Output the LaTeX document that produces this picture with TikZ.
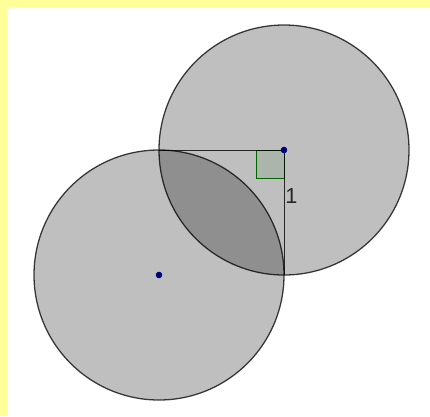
\documentclass[tikz,border=0pt]{standalone}
\usepackage{fontspec}
\usepackage{xcolor}
\usepackage{tikz}
\newfontfamily\labelfont{Liberation Sans}
\definecolor{cbor}{HTML}{FFFF99}
\definecolor{cpun}{HTML}{00007F}
\definecolor{cang}{HTML}{006400}

\begin{document}
\begin{tikzpicture}[x=0.03cm,y=-0.03cm]
    \useasboundingbox (0,0) rectangle (430,416);
    \fill[cbor] (0,0) rectangle (430,416);
    \fill[white] (7,7) rectangle (430,416);
    \coordinate (A) at (284,150);
    \coordinate (B) at (159,275);
    \coordinate (P) at (159,150);
    \coordinate (Q) at (284,275);
    \draw[line width=1.1pt,fill=black,fill opacity=0.25,draw opacity=0.75] (A) circle (125);
    \draw[line width=1.1pt,fill=black,fill opacity=0.25,draw opacity=0.75] (B) circle (125);
    \draw[cang,line width=0.8pt,fill=cang,fill opacity=0.1] (A) rectangle ++(-28,28);
    \draw[line width=0.8pt,draw opacity=0.8] (P) -- (A) -- (Q);
    \fill[cpun] (A) circle (3.3);
    \fill[cpun] (B) circle (3.3);
    \node[font=\labelfont\fontsize{18.5}{22}\selectfont,text=black!85] (uno) at (291.5,196.5) {1};
  \end{tikzpicture}
\end{document}
